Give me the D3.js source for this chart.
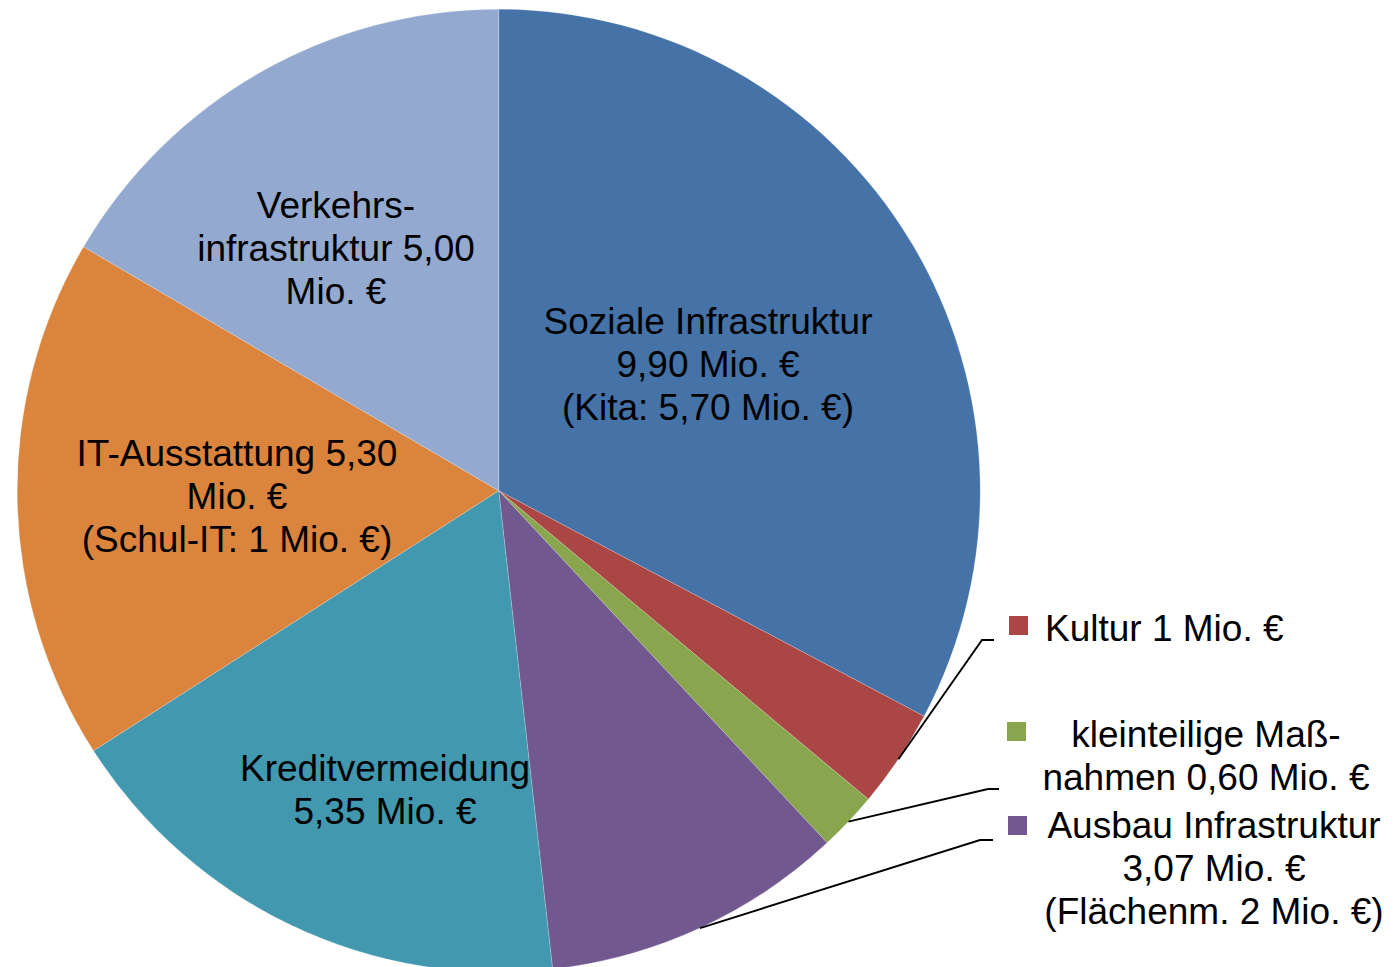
<!DOCTYPE html>
<html>
<head>
<meta charset="utf-8">
<script src="https://cdn.jsdelivr.net/npm/d3@7"></script>
<style>
  html, body { margin: 0; padding: 0; background: #fff; }
  svg { display: block; }
  text { font-family: "Liberation Sans", Arial, Helvetica, sans-serif; fill: #000; }
</style>
</head>
<body>
<svg id="chart" width="1396" height="967"></svg>
<script>
// ---- Data ----
const categories = [
  "Soziale Infrastruktur",
  "Kultur",
  "kleinteilige Maßnahmen",
  "Ausbau Infrastruktur",
  "Kreditvermeidung",
  "IT-Ausstattung",
  "Verkehrsinfrastruktur"
];
const values = [9.90, 1.00, 0.60, 3.07, 5.35, 5.30, 5.00];
const colors = ["#4572A7", "#AA4643", "#89A54E", "#71588F", "#4198AF", "#DB843D", "#93A9CF"];
const labelLines = [
  ["Soziale Infrastruktur", "9,90 Mio. €", "(Kita: 5,70 Mio. €)"],
  ["Kultur 1 Mio. €"],
  ["kleinteilige Maß-", "nahmen 0,60 Mio. €"],
  ["Ausbau Infrastruktur", "3,07 Mio. €", "(Flächenm. 2 Mio. €)"],
  ["Kreditvermeidung", "5,35 Mio. €"],
  ["IT-Ausstattung 5,30", "Mio. €", "(Schul-IT: 1 Mio. €)"],
  ["Verkehrs-", "infrastruktur 5,00", "Mio. €"]
];

// ---- Layout ----
const cx = 498.7, cy = 490.7, radius = 481.5;
const fontSize = 37, lineHeight = 43.2;
const labelLayout = [
  {type: "inside", x: 708, y: 334},
  {type: "outside", x: 1045, y: 641, anchor: "start", key: [1009, 616], elbow: [982, 640], end: [994, 640]},
  {type: "outside", x: 1206, y: 747, anchor: "middle", key: [1007, 722], elbow: [988, 789], end: [999, 789]},
  {type: "outside", x: 1214, y: 838, anchor: "middle", key: [1008, 816], elbow: [980, 840], end: [993, 840]},
  {type: "inside", x: 385, y: 780.5},
  {type: "inside", x: 237, y: 466},
  {type: "inside", x: 336, y: 218}
];
const keySize = 19;

const svg = d3.select("#chart");
const g = svg.append("g").attr("transform", `translate(${cx},${cy})`);

const pie = d3.pie().sort(null).value(d => d)(values);
const arc = d3.arc().innerRadius(0).outerRadius(radius);

g.selectAll("path.slice")
  .data(pie)
  .join("path")
  .attr("class", "slice")
  .attr("d", arc)
  .attr("fill", (d, i) => colors[i])
  .attr("stroke", "rgba(255,255,255,0.35)")
  .attr("stroke-width", 0.6);

// leader lines and legend keys for outside labels
pie.forEach((d, i) => {
  const L = labelLayout[i];
  if (L.type !== "outside") return;
  const mid = (d.startAngle + d.endAngle) / 2;
  const sx = cx + radius * Math.sin(mid);
  const sy = cy - radius * Math.cos(mid);
  svg.append("polyline")
    .attr("points", [[sx, sy], L.elbow, L.end].map(p => p.join(",")).join(" "))
    .attr("fill", "none")
    .attr("stroke", "#000")
    .attr("stroke-width", 1.9);
  svg.append("rect")
    .attr("x", L.key[0]).attr("y", L.key[1])
    .attr("width", keySize).attr("height", keySize)
    .attr("fill", colors[i]);
});

// labels
labelLines.forEach((lines, i) => {
  const L = labelLayout[i];
  const t = svg.append("text")
    .attr("font-size", fontSize)
    .attr("text-anchor", L.type === "inside" ? "middle" : L.anchor);
  lines.forEach((s, k) => {
    t.append("tspan")
      .attr("x", L.x)
      .attr("y", L.y + k * lineHeight)
      .text(s);
  });
});
</script>
</body>
</html>
